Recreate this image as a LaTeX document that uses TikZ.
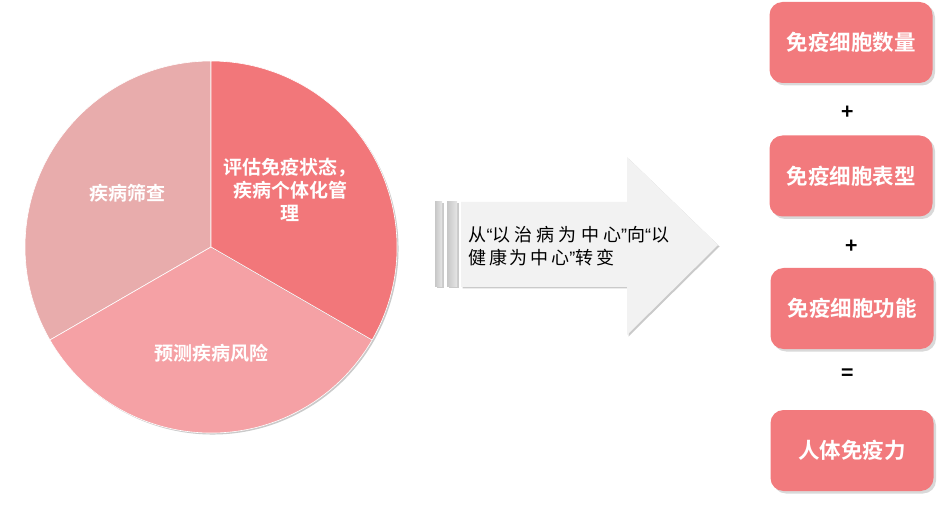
\documentclass[tikz,border=0pt]{standalone}
\usepackage{fontspec}
\setmainfont{Noto Sans CJK SC}[BoldFont={Noto Sans CJK SC Bold}]
\newfontfamily\spacedcjk{Noto Sans CJK SC}[LetterSpace=15]
\newfontfamily\widecjk{Noto Sans CJK SC}[LetterSpace=23]
\newfontfamily\quotefont{Liberation Sans}[LetterSpace=15]
\usetikzlibrary{shadows}
\definecolor{screenpink}{HTML}{E8ACAC}
\definecolor{riskpink}{HTML}{F5A1A5}
\definecolor{assessred}{HTML}{F2777A}
\definecolor{cellred}{HTML}{F27A7D}
\definecolor{arrowgray}{HTML}{F2F2F2}
\newcommand{\openq}{{\quotefont “}}
\newcommand{\closeq}{{\quotefont ”}}
\tikzset{
    softshadow/.style = {drop shadow = {shadow xshift = 1.5pt, shadow yshift = -1.5pt, opacity = 0.35, fill = black!60}},
    slice/.style = {draw = white, line width = 0.6pt, softshadow},
    slicetext/.style = {text = white, align = center, font = \bfseries\fontsize{19}{23}\selectfont},
    cellbox/.style = {fill = cellred, rounded corners = 13pt, minimum width = 163pt, minimum height = 81pt,
        text = white, font = \bfseries\fontsize{21.5}{26}\selectfont,
        drop shadow = {shadow xshift = 2.5pt, shadow yshift = -2.5pt, opacity = 0.3}},
    signtext/.style = {font = \bfseries\fontsize{21}{21}\selectfont},
    stripe/.style = {left color = black!22, right color = black!10, softshadow}
}

\begin{document}
\begin{tikzpicture}[x = 1pt, y = 1pt]
    \useasboundingbox (0, 0) rectangle (940, 504);

    \coordinate (pie) at (211, 257);
    \fill[screenpink, slice] (pie) -- ++(90:186) arc (90:210:186) -- cycle;
    \fill[riskpink, slice] (pie) -- ++(210:186) arc (210:330:186) -- cycle;
    \fill[assessred, slice, shift = {(30:5)}] (pie) -- ++(-30:186) arc (-30:90:186) -- cycle;

    \node[slicetext] (screen) at (127, 311) {疾病筛查};
    \node[slicetext] (assess) at (290, 314) {评估免疫状态，\\疾病个体化管\\理};
    \node[slicetext] (risk) at (211, 151) {预测疾病风险};

    \shade[stripe] (435, 217) rectangle (442, 302);
    \shade[stripe] (447, 217) rectangle (457, 302);
    \fill[arrowgray, softshadow] (461, 217) -- (461, 302) -- (627, 302) -- (627, 347)
        -- (718, 259) -- (627, 169) -- (627, 217) -- cycle;
    \node[anchor = west, align = left, font = \spacedcjk\fontsize{18}{23}\selectfont] (shift) at (465, 258)
        {{\widecjk 从}\openq{\widecjk 以治病为中心}\closeq{\widecjk 向}\openq{\widecjk 以}\\健康为中心\closeq 转变};

    \node[cellbox] (count) at (851, 461.5) {免疫细胞数量};
    \node[cellbox] (phenotype) at (851, 328) {免疫细胞表型};
    \node[cellbox] (function) at (852, 195.5) {免疫细胞功能};
    \node[cellbox] (immunity) at (852, 53.5) {人体免疫力};

    \node[signtext] (plusa) at (848, 391) {+};
    \node[signtext] (plusb) at (852, 257) {+};
    \node[signtext] (equals) at (848, 129) {=};
\end{tikzpicture}
\end{document}
